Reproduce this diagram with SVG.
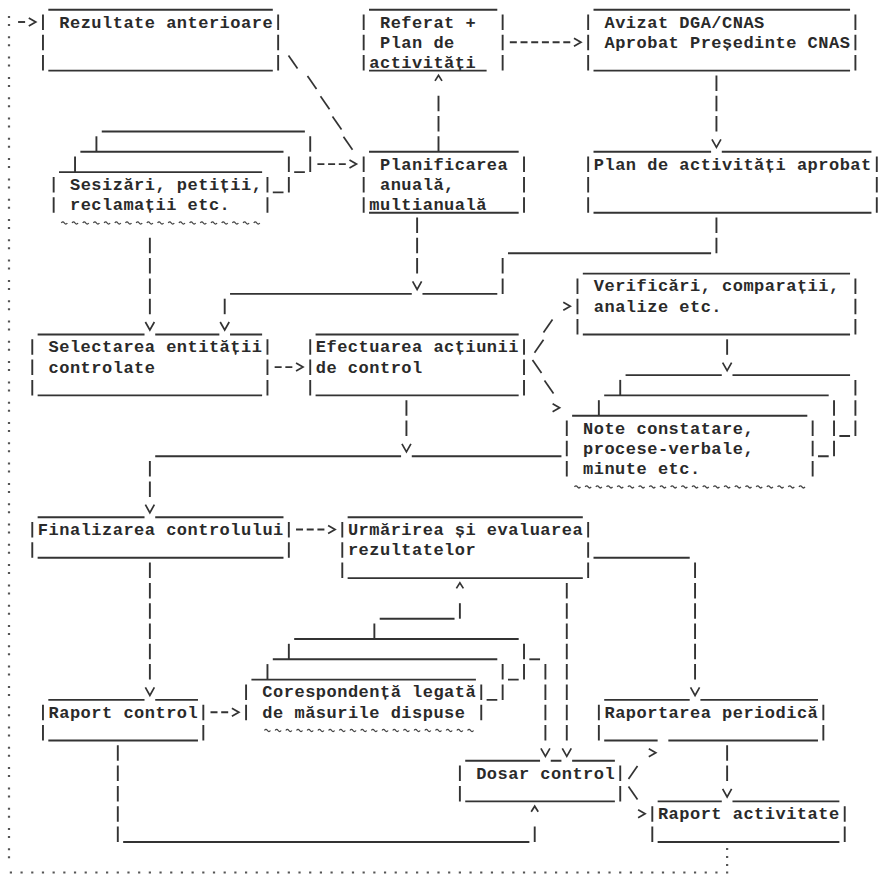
<svg xmlns="http://www.w3.org/2000/svg" xmlns:xlink="http://www.w3.org/1999/xlink" width="882" height="877" viewBox="0 0 882 877">
<style>
.s{stroke:#333;stroke-width:1.9;fill:none}
.p{stroke:#333;stroke-width:1.9;fill:none;stroke-dasharray:15.5 4.8}
.h{stroke:#333;stroke-width:1.9;fill:none;stroke-dasharray:7 3.69}
.a{stroke:#333;stroke-width:1.7;fill:none;stroke-linejoin:miter}
.t{stroke:#444;stroke-width:1.3;fill:none}
.dot{stroke:#555;stroke-width:2.2;fill:none}
text{font-family:"Liberation Mono","DejaVu Sans Mono",monospace;font-weight:bold;font-size:17px;letter-spacing:.49px;fill:#2a2a2a}
</style>
<defs>
<path id="av" d="M-4.5,-4.5L0,3.5L4.5,-4.5"/>
<path id="ar" d="M-3.5,-4L3.5,0L-3.5,4"/>
<path id="au" d="M-3.5,-2L0,-7.5L3.5,-2"/>
<path id="bs" d="M-4.5,-7L4.5,6"/>
<path id="fs" d="M-4.5,6L4.5,-7"/>
</defs>
<rect width="882" height="877" fill="#fff"/>

<g id="n-rezultate">
<path class="s" d="M48.32 9.7H272.8M48.32 70.6H272.8"/>
<path class="p" d="M42.97 14.5V70.6"/><path class="p" d="M278.15 14.5V70.6"/>
<text x="59.25" y="27.5">Rezultate anterioare</text>
</g>

<g id="n-referat">
<path class="s" d="M369.02 9.7H497.29M369.02 70.6H486.61"/>
<path class="p" d="M363.67 14.5V70.6"/><path class="p" d="M502.64 14.5V70.6"/>
<text x="379.95" y="27.5">Referat +</text>
<text x="379.95" y="47.8">Plan de</text>
<text x="369.26" y="68.1">activități</text>
</g>

<g id="n-avizat">
<path class="s" d="M593.51 9.7H850.06M593.51 70.6H850.06"/>
<path class="p" d="M588.16 14.5V70.6"/><path class="p" d="M855.41 14.5V70.6"/>
<text x="604.44" y="27.5">Avizat DGA/CNAS</text>
<text x="604.44" y="47.8">Aprobat Președinte CNAS</text>
</g>

<g id="n-planificarea">
<path class="s" d="M369.02 151.8H518.67M369.02 212.7H518.67"/>
<path class="p" d="M363.67 156.6V212.7"/><path class="p" d="M524.02 156.6V212.7"/>
<text x="379.95" y="169.6">Planificarea</text>
<text x="379.95" y="189.9">anuală,</text>
<text x="369.26" y="210.2">multianuală</text>
</g>

<g id="n-plan-aprobat">
<path class="s" d="M593.51 151.8H711.09M721.79 151.8H871.44M593.51 212.7H871.44"/>
<path class="p" d="M588.16 156.6V212.7"/><path class="p" d="M876.79 156.6V212.7"/>
<text x="593.75" y="169.6">Plan de activități aprobat</text>
</g>

<g id="n-sesizari">
<path class="s" d="M101.76 131.5H304.88M294.18 172.1H304.88"/>
<path class="p" d="M96.42 136.3V151.8"/><path class="p" d="M310.22 136.3V172.1"/>
<path class="s" d="M80.38 151.8H283.5M272.8 192.4H283.5"/>
<path class="p" d="M75.04 156.6V172.1"/><path class="p" d="M288.84 156.6V192.4"/>
<path class="s" d="M59 172.1H262.12"/>
<path class="p" d="M53.66 176.9V212.7"/><path class="p" d="M267.46 176.9V212.7"/>
<path class="t" d="M61.35 223q1.5-2.2 3 0t3 0m4.69 0q1.5-2.2 3 0t3 0m4.69 0q1.5-2.2 3 0t3 0m4.69 0q1.5-2.2 3 0t3 0m4.69 0q1.5-2.2 3 0t3 0m4.69 0q1.5-2.2 3 0t3 0m4.69 0q1.5-2.2 3 0t3 0m4.69 0q1.5-2.2 3 0t3 0m4.69 0q1.5-2.2 3 0t3 0m4.69 0q1.5-2.2 3 0t3 0m4.69 0q1.5-2.2 3 0t3 0m4.69 0q1.5-2.2 3 0t3 0m4.69 0q1.5-2.2 3 0t3 0m4.69 0q1.5-2.2 3 0t3 0m4.69 0q1.5-2.2 3 0t3 0m4.69 0q1.5-2.2 3 0t3 0m4.69 0q1.5-2.2 3 0t3 0m4.69 0q1.5-2.2 3 0t3 0m4.69 0q1.5-2.2 3 0t3 0"/>
<text x="69.94" y="189.9">Sesizări, petiții,</text>
<text x="69.94" y="210.2">reclamații etc.</text>
</g>

<g id="n-selectarea">
<path class="s" d="M37.63 334.5H144.52M155.22 334.5H219.35M230.05 334.5H262.12M37.63 395.4H262.12"/>
<path class="p" d="M32.28 339.3V395.4"/><path class="p" d="M267.46 339.3V395.4"/>
<text x="48.56" y="352.3">Selectarea entității</text>
<text x="48.56" y="372.6">controlate</text>
</g>

<g id="n-efectuarea">
<path class="s" d="M315.57 334.5H518.67M315.57 395.4H518.67"/>
<path class="p" d="M310.22 339.3V395.4"/><path class="p" d="M524.02 339.3V395.4"/>
<text x="315.81" y="352.3">Efectuarea acțiunii</text>
<text x="315.81" y="372.6">de control</text>
</g>

<g id="n-verificari">
<path class="s" d="M582.82 273.6H850.06M582.82 334.5H850.06"/>
<path class="p" d="M577.47 278.4V334.5"/><path class="p" d="M855.41 278.4V334.5"/>
<text x="593.75" y="291.4">Verificări, comparații,</text>
<text x="593.75" y="311.7">analize etc.</text>
</g>

<g id="n-note">
<path class="s" d="M625.57 375.1H721.78M732.48 375.1H850.06M839.37 436H850.06"/>
<path class="p" d="M620.23 379.9V395.4"/><path class="p" d="M855.41 379.9V436"/>
<path class="s" d="M604.19 395.4H828.69M817.99 456.3H828.69"/>
<path class="p" d="M598.85 400.2V415.7"/><path class="p" d="M834.03 400.2V456.3"/>
<path class="s" d="M572.12 415.7H807.31"/>
<path class="p" d="M566.78 420.5V476.6"/><path class="p" d="M812.65 420.5V476.6"/>
<path class="t" d="M574.47 486.9q1.5-2.2 3 0t3 0m4.69 0q1.5-2.2 3 0t3 0m4.69 0q1.5-2.2 3 0t3 0m4.69 0q1.5-2.2 3 0t3 0m4.69 0q1.5-2.2 3 0t3 0m4.69 0q1.5-2.2 3 0t3 0m4.69 0q1.5-2.2 3 0t3 0m4.69 0q1.5-2.2 3 0t3 0m4.69 0q1.5-2.2 3 0t3 0m4.69 0q1.5-2.2 3 0t3 0m4.69 0q1.5-2.2 3 0t3 0m4.69 0q1.5-2.2 3 0t3 0m4.69 0q1.5-2.2 3 0t3 0m4.69 0q1.5-2.2 3 0t3 0m4.69 0q1.5-2.2 3 0t3 0m4.69 0q1.5-2.2 3 0t3 0m4.69 0q1.5-2.2 3 0t3 0m4.69 0q1.5-2.2 3 0t3 0m4.69 0q1.5-2.2 3 0t3 0m4.69 0q1.5-2.2 3 0t3 0m4.69 0q1.5-2.2 3 0t3 0m4.69 0q1.5-2.2 3 0t3 0"/>
<text x="583.06" y="433.5">Note constatare,</text>
<text x="583.06" y="453.8">procese-verbale,</text>
<text x="583.06" y="474.1">minute etc.</text>
</g>

<g id="n-finalizarea">
<path class="s" d="M37.63 517.2H144.52M155.22 517.2H283.49M37.63 557.8H283.49"/>
<path class="p" d="M32.28 522V557.8"/><path class="p" d="M288.84 522V557.8"/>
<text x="37.87" y="535">Finalizarea controlului</text>
</g>

<g id="n-urmarirea">
<path class="s" d="M347.64 517.2H582.81M347.64 578.1H582.81"/>
<path class="p" d="M342.29 522V578.1"/><path class="p" d="M588.16 522V578.1"/>
<text x="347.88" y="535">Urmărirea și evaluarea</text>
<text x="347.88" y="555.3">rezultatelor</text>
</g>

<g id="n-raport-control">
<path class="s" d="M48.32 699.9H144.52M155.22 699.9H197.97M48.32 740.5H197.97"/>
<path class="p" d="M42.97 704.7V740.5"/><path class="p" d="M203.32 704.7V740.5"/>
<text x="48.56" y="717.7">Raport control</text>
</g>

<g id="n-corespondenta">
<path class="s" d="M294.18 639H518.68M507.98 679.6H518.68"/>
<path class="p" d="M288.84 643.8V659.3"/><path class="p" d="M524.02 643.8V679.6"/>
<path class="s" d="M272.8 659.3H497.3M486.6 699.9H497.3"/>
<path class="p" d="M267.46 664.1V679.6"/><path class="p" d="M502.64 664.1V699.9"/>
<path class="s" d="M251.42 679.6H475.92"/>
<path class="p" d="M246.08 684.4V720.2"/><path class="p" d="M481.26 684.4V720.2"/>
<path class="t" d="M264.46 730.5q1.5-2.2 3 0t3 0m4.69 0q1.5-2.2 3 0t3 0m4.69 0q1.5-2.2 3 0t3 0m4.69 0q1.5-2.2 3 0t3 0m4.69 0q1.5-2.2 3 0t3 0m4.69 0q1.5-2.2 3 0t3 0m4.69 0q1.5-2.2 3 0t3 0m4.69 0q1.5-2.2 3 0t3 0m4.69 0q1.5-2.2 3 0t3 0m4.69 0q1.5-2.2 3 0t3 0m4.69 0q1.5-2.2 3 0t3 0m4.69 0q1.5-2.2 3 0t3 0m4.69 0q1.5-2.2 3 0t3 0m4.69 0q1.5-2.2 3 0t3 0m4.69 0q1.5-2.2 3 0t3 0m4.69 0q1.5-2.2 3 0t3 0m4.69 0q1.5-2.2 3 0t3 0m4.69 0q1.5-2.2 3 0t3 0m4.69 0q1.5-2.2 3 0t3 0m4.69 0q1.5-2.2 3 0t3 0"/>
<text x="262.36" y="697.4">Corespondență legată</text>
<text x="262.36" y="717.7">de măsurile dispuse</text>
</g>

<g id="n-raportarea">
<path class="s" d="M604.2 699.9H689.71M700.41 699.9H817.99M604.2 740.5H657.64M668.34 740.5H817.99"/>
<path class="p" d="M598.85 704.7V740.5"/><path class="p" d="M823.34 704.7V740.5"/>
<text x="604.44" y="717.7">Raportarea periodică</text>
</g>

<g id="n-dosar">
<path class="s" d="M465.23 760.8H540.05M550.75 760.8H561.43M572.13 760.8H614.88M465.23 801.4H614.88"/>
<path class="p" d="M459.88 765.6V801.4"/><path class="p" d="M620.23 765.6V801.4"/>
<text x="476.16" y="778.6">Dosar control</text>
</g>

<g id="n-raport-activitate">
<path class="s" d="M657.65 801.4H721.78M732.48 801.4H839.37M657.65 842H839.37"/>
<path class="p" d="M652.3 806.2V842"/><path class="p" d="M844.72 806.2V842"/>
<text x="657.89" y="819.2">Raport activitate</text>
</g>

<g id="connectors">
<!-- feedback loop (dotted) -->
<path class="dot" style="stroke-dasharray:2 6 2 10.3" d="M9 16V866"/>
<path class="dot" style="stroke-dasharray:2.2 8.49" d="M9.8 872.5H728.3"/>
<path class="dot" style="stroke-dasharray:2 6" d="M727.13 848V866"/>
<path class="s" d="M18.1 22H25.1"/>
<use href="#ar" class="a" x="32.28" y="22"/>
<!-- Referat -> Avizat -->
<path class="h" d="M509.83 42.3H570.28"/>
<use href="#ar" class="a" x="577.47" y="42.3"/>
<!-- Avizat -> Plan aprobat -->
<path class="p" d="M716.44 75.4V131.5"/>
<use href="#av" class="a" x="716.44" y="143.8"/>
<!-- Planificarea -> Referat -->
<use href="#au" class="a" x="438.5" y="82.9"/>
<path class="p" d="M438.5 95.7V151.8"/>
<!-- Rezultate -> Planificarea -->
<use href="#bs" class="a" x="293" y="62.6"/>
<use href="#bs" class="a" x="312" y="82.9"/>
<use href="#bs" class="a" x="325" y="103.2"/>
<use href="#bs" class="a" x="337" y="123.5"/>
<use href="#bs" class="a" x="348" y="143.8"/>
<!-- Sesizari -> Planificarea -->
<path class="h" d="M317.41 164.1H345.79"/>
<use href="#ar" class="a" x="352.98" y="164.1"/>
<!-- Sesizari -> Selectarea -->
<path class="p" d="M149.87 237.8V314.2"/>
<use href="#av" class="a" x="149.87" y="326.5"/>
<!-- Planificarea -> line -->
<path class="p" d="M417.12 217.5V273.6"/>
<use href="#av" class="a" x="417.12" y="285.9"/>
<!-- Plan aprobat -> Selectarea -->
<path class="p" d="M716.44 217.5V253.3"/>
<path class="s" d="M507.98 253.3H711.1"/>
<path class="p" d="M502.64 258.1V293.9"/>
<path class="s" d="M230.05 293.9H411.77M422.47 293.9H497.3"/>
<path class="p" d="M224.7 298.7V314.2"/>
<use href="#av" class="a" x="224.7" y="326.5"/>
<!-- Selectarea -> Efectuarea -->
<path class="h" d="M274.65 367.1H292.34"/>
<use href="#ar" class="a" x="299.53" y="367.1"/>
<!-- Efectuarea -> Verificari -->
<use href="#fs" class="a" x="539" y="346.8"/>
<use href="#fs" class="a" x="548" y="326.5"/>
<use href="#ar" class="a" x="566.78" y="306.2"/>
<!-- Efectuarea -> Note -->
<use href="#bs" class="a" x="537" y="367.1"/>
<use href="#bs" class="a" x="549" y="387.4"/>
<use href="#ar" class="a" x="556.09" y="407.7"/>
<!-- Verificari -> Note -->
<path class="p" d="M727.13 339.3V354.8"/>
<use href="#av" class="a" x="727.13" y="367.1"/>
<!-- Efectuarea / Note -> Finalizarea -->
<path class="p" d="M406.43 400.2V436"/>
<use href="#av" class="a" x="406.43" y="448.3"/>
<path class="s" d="M155.21 456.3H401.08M411.78 456.3H561.44"/>
<path class="p" d="M149.87 461.1V496.9"/>
<use href="#av" class="a" x="149.87" y="509.2"/>
<!-- Finalizarea -> Urmarirea -->
<path class="h" d="M296.03 529.5H324.41"/>
<use href="#ar" class="a" x="331.6" y="529.5"/>
<!-- Finalizarea -> Raport control -->
<path class="p" d="M149.87 562.6V679.6"/>
<use href="#av" class="a" x="149.87" y="691.9"/>
<!-- Urmarirea -> Raportarea periodica -->
<path class="s" d="M593.5 557.8H689.72"/>
<path class="p" d="M695.06 562.6V679.6"/>
<use href="#av" class="a" x="695.06" y="691.9"/>
<!-- Urmarirea -> Dosar -->
<path class="p" d="M566.78 582.9V740.5"/>
<use href="#av" class="a" x="566.78" y="752.8"/>
<!-- Corespondenta -> Urmarirea -->
<use href="#au" class="a" x="459.88" y="590.4"/>
<path class="p" d="M459.88 603.2V618.7"/>
<path class="s" d="M379.7 618.7H454.54"/>
<path class="p" d="M374.36 623.5V639"/>
<!-- Corespondenta -> Dosar -->
<path class="s" d="M529.36 659.3H540.06"/>
<path class="p" d="M545.4 664.1V740.5"/>
<use href="#av" class="a" x="545.4" y="752.8"/>
<!-- Raport control -> Corespondenta -->
<path class="h" d="M210.51 712.2H228.2"/>
<use href="#ar" class="a" x="235.39" y="712.2"/>
<!-- Raport control -> Dosar -->
<path class="p" d="M117.8 745.3V842"/>
<path class="s" d="M123.15 842H529.37"/>
<path class="p" d="M534.71 826.5V842"/>
<use href="#au" class="a" x="534.71" y="813.7"/>
<!-- Dosar -> Raportarea / Raport activitate -->
<use href="#fs" class="a" x="633" y="773.1"/>
<use href="#ar" class="a" x="652.3" y="752.8"/>
<use href="#bs" class="a" x="633" y="793.4"/>
<use href="#ar" class="a" x="641.61" y="813.7"/>
<!-- Raportarea -> Raport activitate -->
<path class="p" d="M727.13 745.3V781.1"/>
<use href="#av" class="a" x="727.13" y="793.4"/>
</g>
</svg>
